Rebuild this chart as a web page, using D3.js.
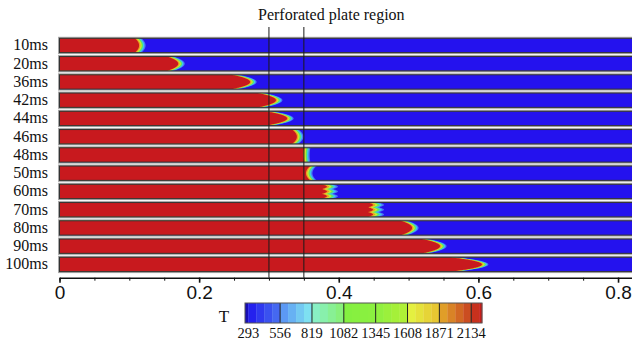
<!DOCTYPE html>
<html>
<head>
<meta charset="utf-8">
<script src="https://cdn.jsdelivr.net/npm/d3@7"></script>
<style>
body { margin: 0; background: #fff; }
svg { display: block; }
.serif { font-family: "Liberation Serif", "Times New Roman", Times, serif; fill: #111; }
.axis text { font-family: "Liberation Sans", Arial, sans-serif; font-size: 19px; fill: #111; }
</style>
</head>
<body>
<div class="chart"></div>
<script>
const WIDTH = 632, HEIGHT = 346;

// snapshot times
const times = ["10ms", "20ms", "36ms", "42ms", "44ms", "46ms", "48ms", "50ms", "60ms", "70ms", "80ms", "90ms", "100ms"];
// flame front tip position on the centre line (m)
const frontTip = [0.114, 0.170, 0.273, 0.310, 0.326, 0.340, 0.349, 0.353, 0.383, 0.449, 0.505, 0.545, 0.605];
// how far the front lags behind the tip at the walls (m), negative = concave
const frontLag = [0.006, 0.016, 0.026, 0.026, 0.031, 0.007, -0.001, -0.006, 0.007, 0.007, 0.016, 0.026, 0.046];
// number of flame fingers across the channel
const fingers = [1, 1, 1, 1, 1, 1, 1, 1, 3, 3, 1, 1, 1];

const xTicks = [0, 0.2, 0.4, 0.6, 0.8];
const plateEdges = [0.3, 0.35];
const tempTicks = [293, 556, 819, 1082, 1345, 1608, 1871, 2134];
const tempRange = [266, 2223];

const RED = "#c8191e", BLUE = "#2412ee";
// front band colours, outermost first (offset in px from the red region)
const band = [[5, "#4a78f2"], [4, "#3cc6f0"], [3, "#60e85c"], [2, "#cce832"], [1, "#ee9a22"]];

var svg = d3.select(".chart").append("svg")
    .attr("width", WIDTH)
    .attr("height", HEIGHT);

svg.append("rect").attr("width", WIDTH).attr("height", HEIGHT).attr("fill", "#fff");

var x = d3.scaleLinear().domain([0, 0.82]).range([59.5, 632]);
var y = d3.scaleBand().domain(times).range([38.3, 271.6]).paddingInner(0.216);
const AXIS_Y = 277.7;

function shape(t, n) {
    if (n === 3) return 1 - Math.abs(Math.cos(1.5 * Math.PI * t));
    return t * t;
}

var tSamples = d3.range(-1, 1.0001, 0.025);

function frontPath(i, off) {
    var top = y(times[i]), h = y.bandwidth();
    var pts = [[x(0), top]];
    tSamples.forEach(function(t){
        var fx = x(frontTip[i] - frontLag[i] * shape(t, fingers[i])) + off;
        pts.push([fx, top + (t + 1) / 2 * h]);
    });
    pts.push([x(0), top + h]);
    return d3.line()(pts) + "Z";
}

var rows = svg.selectAll(".row").data(times).enter().append("g").attr("class", "row");

// light halo round each channel
rows.append("rect")
    .attr("x", x(0) - 0.5)
    .attr("y", function(d){ return y(d) - 0.5; })
    .attr("width", WIDTH)
    .attr("height", y.bandwidth() + 1)
    .attr("fill", "none")
    .attr("stroke", "#a8a8a8")
    .attr("stroke-width", 2);

rows.append("rect")
    .attr("x", x(0))
    .attr("y", function(d){ return y(d); })
    .attr("width", WIDTH)
    .attr("height", y.bandwidth())
    .attr("fill", BLUE);

rows.each(function(d, i){
    var g = d3.select(this);
    var k = fingers[i] === 3 ? 2.2 : 1.3;
    band.forEach(function(b){
        g.append("path").attr("d", frontPath(i, b[0] * k)).attr("fill", b[1]);
    });
    g.append("path").attr("d", frontPath(i, 0)).attr("fill", RED);
});

rows.append("rect")
    .attr("x", x(0))
    .attr("y", function(d){ return y(d); })
    .attr("width", WIDTH)
    .attr("height", y.bandwidth())
    .attr("fill", "none")
    .attr("stroke", "#333")
    .attr("stroke-width", 1);

rows.append("text")
    .attr("class", "serif")
    .attr("x", 48)
    .attr("y", function(d){ return y(d) + y.bandwidth() / 2 + 5; })
    .attr("text-anchor", "end")
    .style("font-size", "16px")
    .text(function(d){ return d; });

// perforated plate edges
svg.selectAll(".plate").data(plateEdges).enter().append("line")
    .attr("x1", function(d){ return x(d); })
    .attr("x2", function(d){ return x(d); })
    .attr("y1", 27)
    .attr("y2", AXIS_Y)
    .attr("stroke", "#1a1a1a")
    .attr("stroke-width", 1);

svg.append("text")
    .attr("class", "serif")
    .attr("x", 258)
    .attr("y", 20)
    .style("font-size", "16px")
    .text("Perforated plate region");

// x axis
var minor = svg.append("g")
    .attr("transform", "translate(0," + AXIS_Y + ")")
    .call(d3.axisBottom(x).tickValues(d3.range(0, 0.81, 0.05)).tickSize(3).tickSizeOuter(0).tickFormat(""));
minor.select(".domain").remove();
minor.selectAll("line").attr("stroke", "#111");

var axis = svg.append("g")
    .attr("class", "axis")
    .attr("transform", "translate(0," + AXIS_Y + ")")
    .call(d3.axisBottom(x).tickValues(xTicks).tickSize(5).tickSizeOuter(0)
        .tickFormat(function(d){ return d === 0 ? "0" : d3.format(".1f")(d); }));
axis.select(".domain").attr("stroke", "#111").attr("stroke-width", 1.6);
axis.selectAll(".tick line").attr("stroke", "#111").attr("stroke-width", 1.6);

// colour bar
var cx = d3.scaleLinear().domain(tempRange).range([245, 482]);
var tColor = d3.scaleLinear()
    .domain([266, 300, 556, 580, 819, 840, 1082, 1100, 1345, 1608, 1640, 1871, 1900, 2134, 2223])
    .range(["#120890", "#2018ee", "#4a74f0", "#5a96f4", "#84ecf0", "#88f0c8", "#88f070", "#84f040",
            "#8cf040", "#b4f034", "#e4f040", "#e8c030", "#e0a028", "#c84020", "#c81818"]);
var CB_Y = 303, CB_H = 20;
var stepEdges = [tempRange[0]].concat(d3.range(293, tempRange[1], 263 / 4)).concat([tempRange[1]]);
var steps = d3.pairs(stepEdges);

svg.selectAll(".cb-step").data(steps).enter().append("rect")
    .attr("x", function(d){ return cx(d[0]); })
    .attr("y", CB_Y)
    .attr("width", function(d){ return cx(d[1]) - cx(d[0]) + 0.3; })
    .attr("height", CB_H)
    .attr("fill", function(d){ return tColor((d[0] + d[1]) / 2); });

svg.selectAll(".cb-div").data(tempTicks.slice(1)).enter().append("line")
    .attr("x1", function(d){ return cx(d); })
    .attr("x2", function(d){ return cx(d); })
    .attr("y1", CB_Y)
    .attr("y2", CB_Y + CB_H)
    .attr("stroke", "#222")
    .attr("stroke-width", 1);

svg.append("rect")
    .attr("x", cx(tempRange[0]))
    .attr("y", CB_Y)
    .attr("width", cx(tempRange[1]) - cx(tempRange[0]))
    .attr("height", CB_H)
    .attr("fill", "none")
    .attr("stroke", "#555")
    .attr("stroke-width", 1);

svg.selectAll(".cb-label").data(tempTicks).enter().append("text")
    .attr("class", "serif")
    .attr("x", function(d){ return cx(d); })
    .attr("y", 338)
    .attr("text-anchor", "middle")
    .style("font-size", "14.5px")
    .text(function(d){ return d; });

svg.append("text")
    .attr("class", "serif")
    .attr("x", 224)
    .attr("y", 322)
    .attr("text-anchor", "middle")
    .style("font-size", "17px")
    .text("T");
</script>
</body>
</html>
